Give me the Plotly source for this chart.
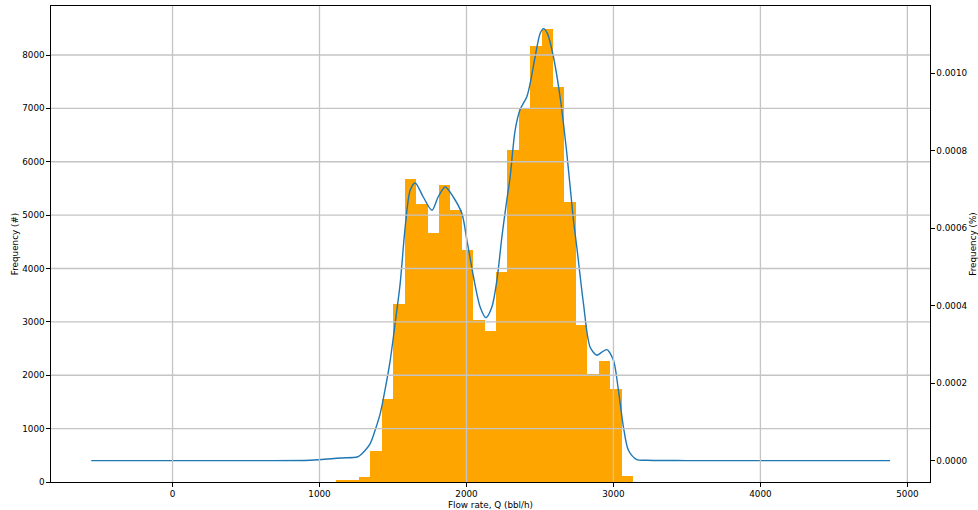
import plotly.graph_objects as go

# ---- data ----
bin_start = 1113.6          # first histogram bin edge (bbl/h)
bin_width = 77.65           # histogram bin width (bbl/h)
counts = [45, 45, 88, 575, 1550, 3327, 5673, 5210, 4667, 5560, 5098, 4348, 3030,
          2830, 3930, 6215, 6979, 8171, 8484, 7403, 5245, 2943, 2024, 2262, 1737, 112]

kde_x = [-553, 400, 937, 1141, 1256, 1277, 1310, 1345, 1379, 1413, 1447, 1481, 1515,
         1549, 1583, 1617, 1651, 1706, 1765, 1807, 1855, 1910, 1969, 2003, 2048, 2093,
         2132, 2173, 2207, 2241, 2270, 2297, 2331, 2365, 2410, 2433, 2467, 2501, 2524,
         2551, 2592, 2637, 2683, 2728, 2751, 2796, 2841, 2887, 2921, 2955, 3000, 3034,
         3068, 3102, 3159, 3227, 3500, 4882]
kde_y = [0.0, 0.0, 0.8e-6, 6.7e-6, 9.3e-6, 1.37e-5, 2.6e-5, 4.39e-5, 7.9e-5, 1.213e-4,
         1.85e-4, 2.588e-4, 3.55e-4, 4.574e-4, 6.027e-4, 6.974e-4, 7.162e-4, 6.801e-4,
         6.458e-4, 6.801e-4, 7.059e-4, 6.801e-4, 6.373e-4, 5.684e-4, 4.737e-4, 3.963e-4,
         3.689e-4, 3.963e-4, 4.652e-4, 5.769e-4, 6.6e-4, 7.317e-4, 8.522e-4, 9.056e-4,
         9.381e-4, 9.727e-4, 1.0413e-3, 1.1017e-3, 1.1146e-3, 1.1017e-3, 1.0413e-3,
         9.381e-4, 7.921e-4, 6.2e-4, 5.5e-4, 4.05e-4, 2.931e-4, 2.717e-4, 2.80e-4,
         2.864e-4, 2.588e-4, 1.814e-4, 8.67e-5, 2.66e-5, 2.6e-6, 0.8e-6, 0.0, 0.0]

x_ticks = [0, 1000, 2000, 3000, 4000, 5000]
y_ticks = [0, 1000, 2000, 3000, 4000, 5000, 6000, 7000, 8000]
y2_ticks = [0.0, 0.0002, 0.0004, 0.0006, 0.0008, 0.0010]

x_title = "Flow rate, Q (bbl/h)"
y_title = "Frequency (#)"
y2_title = "Frequency (%)"

# ---- figure ----
centers = [bin_start + (i + 0.5) * bin_width for i in range(len(counts))]

FONT = dict(family="DejaVu Sans", size=8.8, color="black")
GRID = "#c4c4c4"

fig = go.Figure()
fig.add_trace(go.Bar(x=centers, y=counts, width=[bin_width] * len(counts),
                     marker=dict(color="#FFA500", line=dict(width=0)),
                     yaxis="y", showlegend=False))
fig.add_trace(go.Scatter(x=kde_x, y=kde_y, mode="lines", yaxis="y2",
                         line=dict(color="#1f77b4", width=1.4, shape="spline", smoothing=0.8),
                         showlegend=False))

shapes = []
for t in x_ticks:
    shapes.append(dict(type="line", xref="x", yref="paper", x0=t, x1=t, y0=0, y1=1,
                       line=dict(color=GRID, width=1.3), layer="above"))
for t in y_ticks[1:]:
    shapes.append(dict(type="line", xref="paper", yref="y", x0=0, x1=1, y0=t, y1=t,
                       line=dict(color=GRID, width=1.3), layer="above"))

axis_common = dict(showline=True, linecolor="black", linewidth=1.2, ticks="outside",
                   ticklen=3.5, tickwidth=1, tickcolor="black", zeroline=False,
                   showgrid=False, tickfont=FONT, automargin=False)

fig.update_layout(
    width=978, height=510,
    margin=dict(l=51, r=48, t=6, b=28),
    paper_bgcolor="white", plot_bgcolor="white",
    bargap=0, font=FONT, shapes=shapes,
    xaxis=dict(range=[-827, 5154], tickvals=x_ticks, tickformat="d", mirror=True,
               title=dict(text=x_title, font=FONT, standoff=3), **axis_common),
    yaxis=dict(range=[0, 8918], tickvals=y_ticks, tickformat="d",
               title=dict(text=y_title, font=FONT, standoff=2), **axis_common),
    yaxis2=dict(range=[-0.0000552, 0.0011729], tickvals=y2_ticks, tickformat=".4f",
                overlaying="y", side="right",
                title=dict(text=y2_title, font=FONT, standoff=8), **axis_common),
)

fig.write_html("out.html")
